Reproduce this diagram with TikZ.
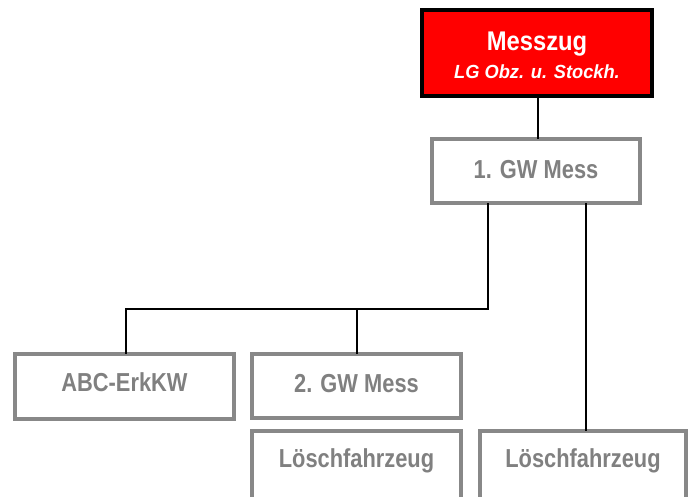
\documentclass[tikz,border=0pt]{standalone}
\usepackage{fontspec}
\setmainfont{Liberation Sans}
\newfontfamily\boxfont[FakeStretch=0.84]{Liberation Sans}
\newfontfamily\headfont[FakeStretch=0.88]{Liberation Sans}
\newfontfamily\subfont[FakeStretch=0.96]{Liberation Sans}
\definecolor{boxgray}{RGB}{136,136,136}
\definecolor{txtgray}{RGB}{128,128,128}
\definecolor{headred}{RGB}{255,0,0}
\tikzset{
  graybox/.style={draw=boxgray, line width=4pt, fill=white, rectangle,
    inner sep=0pt, outer sep=0pt},
  redbox/.style={draw=black, line width=4pt, fill=headred, rectangle,
    inner sep=0pt, outer sep=0pt},
  graytext/.style={anchor=base, inner sep=0pt, text=txtgray,
    font=\boxfont\bfseries\fontsize{26}{26}\selectfont},
  headtext/.style={anchor=base, inner sep=0pt, text=white,
    font=\headfont\bfseries\fontsize{27}{27}\selectfont},
  subtext/.style={anchor=base, inner sep=0pt, text=white,
    font=\subfont\bfseries\itshape\fontsize{19}{19}\selectfont},
  link/.style={draw=black, line width=1.8pt}
}
\begin{document}
\begin{tikzpicture}[x=1pt, y=-1pt]
  \useasboundingbox (0,0) rectangle (694,496);
  \clip (0,0) rectangle (694,496);

  % boxes
  \node[redbox, minimum width=230pt, minimum height=86pt] (zug) at (537,53) {};
  \node[graybox, minimum width=208pt, minimum height=64pt] (gw1) at (536,171) {};
  \node[graybox, minimum width=219pt, minimum height=65pt] (abc) at (124.5,386.5) {};
  \node[graybox, minimum width=209pt, minimum height=64pt] (gw2) at (356.5,386) {};
  \node[graybox, minimum width=209pt, minimum height=70pt] (lf1) at (356.5,466) {};
  \node[graybox, minimum width=206pt, minimum height=70pt] (lf2) at (583,466) {};

  % labels
  \node[headtext] (zugt) at ([yshift=-40pt]zug.north) {Messzug};
  \node[subtext] (zugs) at ([yshift=-68pt]zug.north) {LG Obz. u. Stockh.};
  \node[graytext] (gw1t) at ([yshift=-39pt]gw1.north) {1. GW Mess};
  \node[graytext] (abct) at ([yshift=-37pt]abc.north) {ABC-ErkKW};
  \node[graytext] (gw2t) at ([yshift=-38pt]gw2.north) {2. GW Mess};
  \node[graytext] (lf1t) at ([yshift=-36pt]lf1.north) {Löschfahrzeug};
  \node[graytext] (lf2t) at ([yshift=-36pt]lf2.north) {Löschfahrzeug};

  % junction points of the tree
  \coordinate (jr) at (488,309);
  \coordinate (jl) at (126,309);
  \coordinate (jm) at (357,309);
  \coordinate (rr) at (586,309);

  % connectors
  \draw[link] (zug.south -| 538,0) -- (gw1.north -| 538,0);
  \draw[link] (gw1.south -| jr) -- (jr) -- (jl) -- (jl |- abc.north);
  \draw[link] (jm) -- (jm |- gw2.north);
  \draw[link] (gw1.south -| rr) -- (lf2.north -| rr);
\end{tikzpicture}
\end{document}
